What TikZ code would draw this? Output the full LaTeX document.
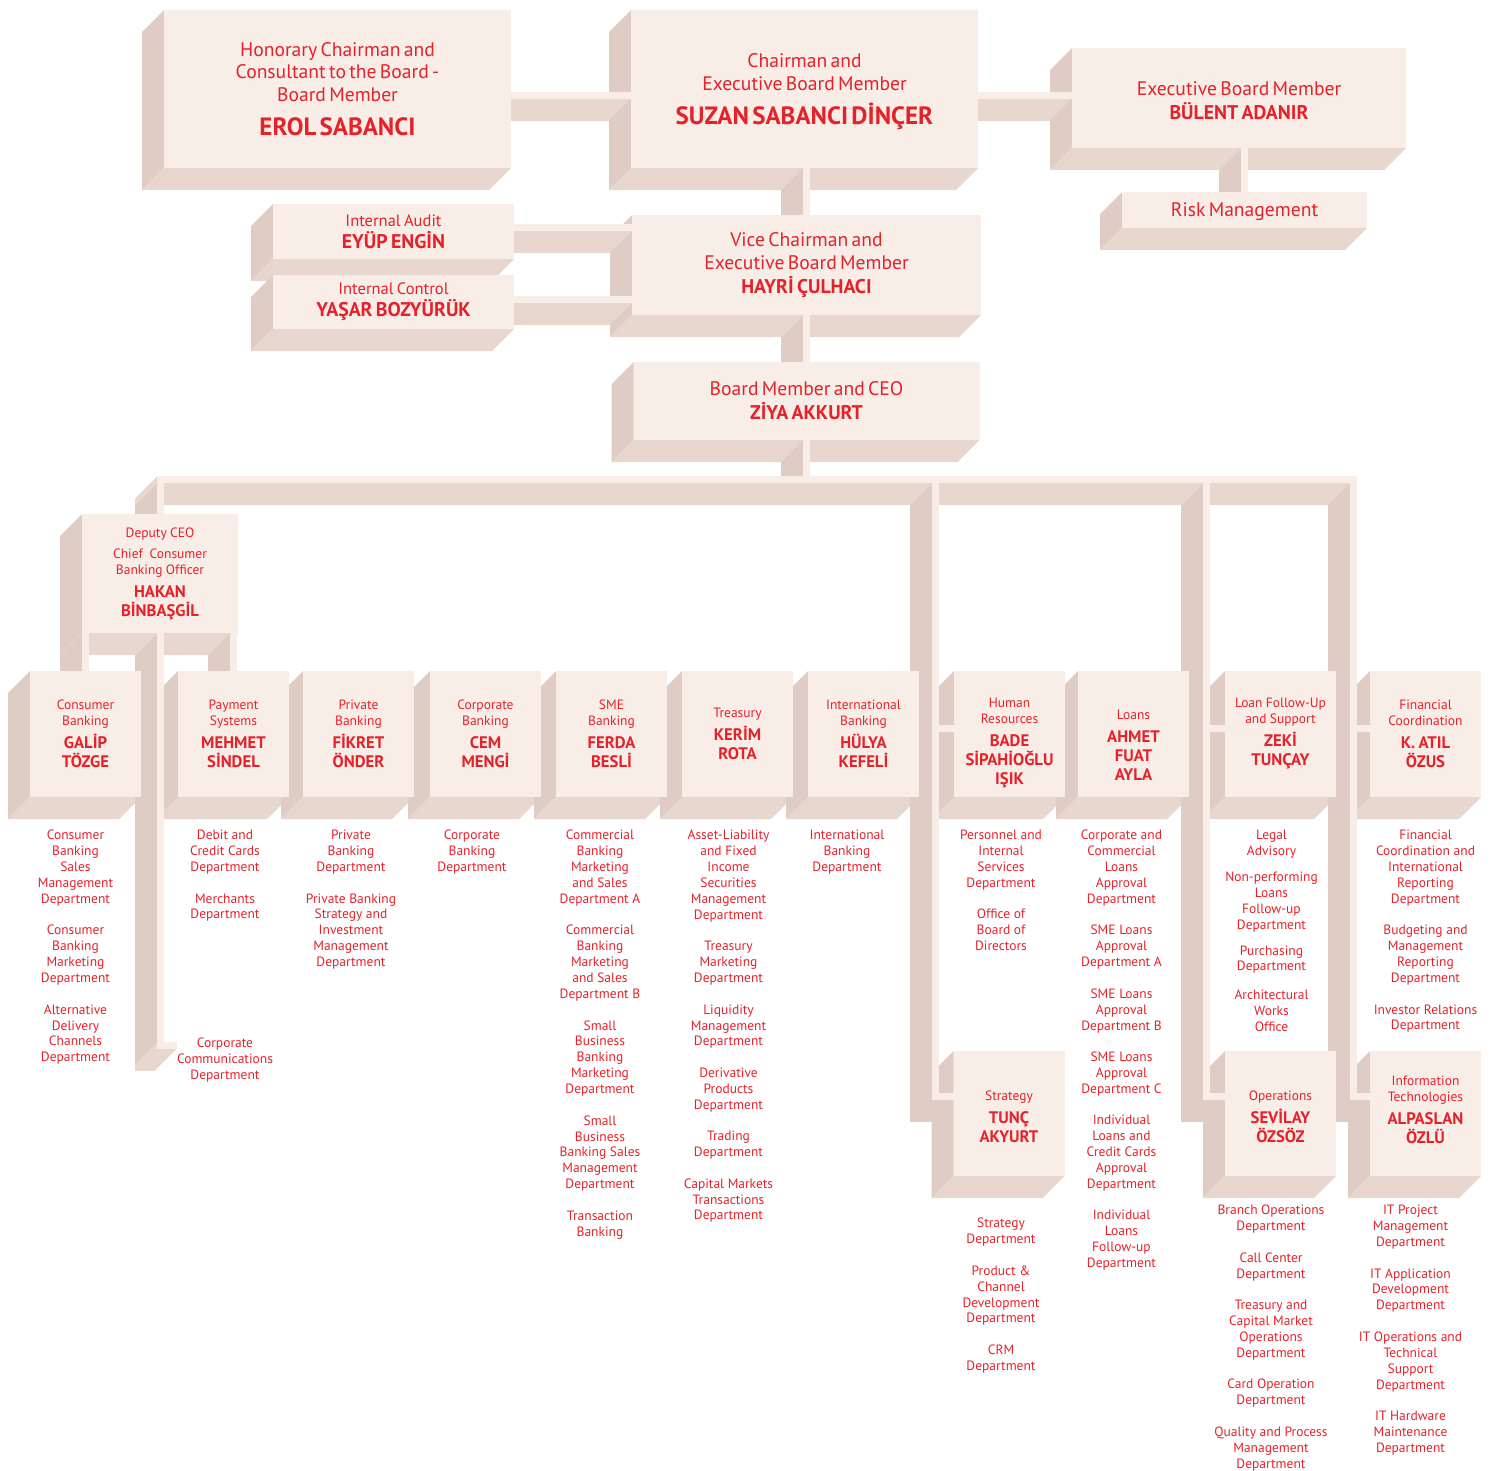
\documentclass[tikz,border=0pt]{standalone}
\usepackage{fontspec}
\setmainfont{PT Sans}
\usetikzlibrary{calc,positioning}

\definecolor{boxfront}{HTML}{F9EDE8}
\definecolor{boxleft}{HTML}{DFCDC5}
\definecolor{boxbottom}{HTML}{E8D7CF}
\definecolor{orgred}{HTML}{E52129}

\pgfdeclarelayer{boxsides}
\pgfdeclarelayer{barsides}
\pgfdeclarelayer{barfronts}
\pgfsetlayers{boxsides,barsides,barfronts,main}

\newcommand\ttl[1]{{\fontsize{13.5}{16}\selectfont #1\par}}
\newcommand\nme[1]{{\fontsize{16.7}{19}\selectfont\bfseries #1\par}}
\newcommand\bigttl[1]{{\fontsize{19.6}{22.5}\selectfont #1\par}}
\newcommand\midttl[1]{{\fontsize{16.5}{19}\selectfont #1\par}}
\newcommand\bignme[1]{{\fontsize{25}{28}\selectfont\bfseries #1\par}}
\newcommand\midnme[1]{{\fontsize{19.8}{22}\selectfont\bfseries #1\par}}

\newcommand\orgbar[3]{%
	\begin{pgfonlayer}{barsides}
		\foreach \k in {0,...,22}
			\draw[#1] ($(#2)+(-\k,\k)$) -- ($(#3)+(-\k,\k)$);
	\end{pgfonlayer}
	\begin{pgfonlayer}{barfronts}
		\draw[barfront] (#2) -- (#3);
	\end{pgfonlayer}}

\begin{document}
\begin{tikzpicture}[x=1pt, y=-1pt,
	box/.style={fill=boxfront, inner sep=0pt, outer sep=0pt, text=orgred, align=center},
	unit/.style={box, minimum width=111pt, minimum height=126pt, text width=108pt},
	dept/.style={text=orgred, font=\fontsize{13.5}{15.9}\selectfont, align=center, inner sep=0pt, anchor=north},
	vside/.style={draw=boxleft, line width=7pt},
	hside/.style={draw=boxbottom, line width=7pt},
	barfront/.style={draw=boxfront, line width=7pt}]

	\useasboundingbox (0,0) rectangle (1501,1470);

	\node [box, minimum width=347pt, minimum height=158pt, text width=335pt] (erol) at (337.5,89)
		{\bigttl{Honorary Chairman and\\Consultant to the Board -\\Board Member}\vspace{6pt}\bignme{EROL SABANCI}};
	\node [box, minimum width=347pt, minimum height=158pt, text width=335pt] (suzan) at (804.5,89)
		{\bigttl{Chairman and\\Executive Board Member}\vspace{6pt}\bignme{SUZAN SABANCI DİNÇER}\vspace*{-5pt}};
	\node [box, minimum width=334pt, minimum height=100pt, text width=320pt] (bulent) at (1239,98)
		{\bigttl{Executive Board Member}\vspace{2pt}\midnme{BÜLENT ADANIR}\vspace*{-6pt}};
	\node [box, minimum width=245pt, minimum height=36pt, text width=230pt] (risk) at (1244.5,210)
		{\bigttl{Risk Management}\vspace*{-3pt}};
	\node [box, minimum width=241pt, minimum height=55pt, text width=235pt] (eyup) at (393.5,231.5)
		{\midttl{Internal Audit}\midnme{EYÜP ENGİN}};
	\node [box, minimum width=241pt, minimum height=54pt, text width=235pt] (yasar) at (393.5,302)
		{\midttl{Internal Control}\midnme{YAŞAR BOZYÜRÜK}};
	\node [box, minimum width=349pt, minimum height=100pt, text width=335pt] (hayri) at (806.5,265)
		{\bigttl{Vice Chairman and\\Executive Board Member}\vspace{2pt}\midnme{HAYRİ ÇULHACI}};
	\node [box, minimum width=346pt, minimum height=78pt, text width=335pt] (ziya) at (806.5,401)
		{\bigttl{Board Member and CEO}\vspace{2pt}\midnme{ZİYA AKKURT}};
	\node [box, minimum width=156pt, minimum height=119pt, text width=150pt] (hakan) at (160,573.5)
		{\ttl{Deputy CEO}\vspace{5pt}\ttl{Chief~~Consumer\\Banking Officer}\vspace{4pt}\nme{HAKAN\\BİNBAŞGİL}};

	\node [unit] (galip) at (85.5,734) {\ttl{Consumer\\Banking}\vspace{4pt}\nme{GALİP\\TÖZGE}};
	\node [unit] (mehmet) at (233.5,734) {\ttl{Payment\\Systems}\vspace{4pt}\nme{MEHMET\\SİNDEL}};
	\node [unit] (fikret) at (358.5,734) {\ttl{Private\\Banking}\vspace{4pt}\nme{FİKRET\\ÖNDER}};
	\node [unit] (cem) at (485.5,734) {\ttl{Corporate\\Banking}\vspace{4pt}\nme{CEM\\MENGİ}};
	\node [unit] (ferda) at (611.5,734) {\ttl{SME\\Banking}\vspace{4pt}\nme{FERDA\\BESLİ}};
	\node [unit] (kerim) at (737.5,734) {\ttl{Treasury}\vspace{4pt}\nme{KERİM\\ROTA}};
	\node [unit] (hulya) at (863.5,734) {\ttl{International\\Banking}\vspace{4pt}\nme{HÜLYA\\KEFELİ}};
	\node [unit] (bade) at (1009.5,734) {\ttl{Human\\Resources}\vspace{4pt}\nme{BADE\\SİPAHİOĞLU\\IŞIK}\vspace*{-18pt}};
	\node [unit] (ahmet) at (1133.5,734) {\ttl{Loans}\vspace{4pt}\nme{AHMET\\FUAT\\AYLA}\vspace*{-22pt}};
	\node [unit] (zeki) at (1280.5,734) {\ttl{Loan Follow-Up\\and Support}\vspace{4pt}\nme{ZEKİ\\TUNÇAY}};
	\node [unit] (atil) at (1425.5,734) {\ttl{Financial\\Coordination}\vspace{4pt}\nme{K. ATIL\\ÖZUS}};

	\node [unit, minimum height=125pt] (tunc) at (1009,1113.5) {\ttl{Strategy}\vspace{4pt}\nme{TUNÇ\\AKYURT}\vspace*{-6pt}};
	\node [unit, minimum height=125pt] (sevilay) at (1280.5,1113.5) {\ttl{Operations}\vspace{4pt}\nme{SEVİLAY\\ÖZSÖZ}\vspace*{-6pt}};
	\node [unit, minimum height=125pt] (alpaslan) at (1425.5,1113.5) {\ttl{Information\\Technologies}\vspace{4pt}\nme{ALPASLAN\\ÖZLÜ}\vspace*{8pt}};

	\node [dept, below=33pt of galip, xshift=-10pt] (galipdeps) {Consumer\\Banking\\Sales\\Management\\Department\\[15.6pt]Consumer\\Banking\\Marketing\\Department\\[15.6pt]Alternative\\Delivery\\Channels\\Department};
	\node [dept, below=33pt of mehmet, xshift=-8.5pt] (mehmetdeps) {Debit and\\Credit Cards\\Department\\[15.6pt]Merchants\\Department};
	\node [dept] (cc) at (225,1038) {Corporate\\Communications\\Department};
	\node [dept, below=33pt of fikret, xshift=-7.5pt] (fikretdeps) {Private\\Banking\\Department\\[15.6pt]Private Banking\\Strategy and\\Investment\\Management\\Department};
	\node [dept, below=33pt of cem, xshift=-13.5pt] (cemdeps) {Corporate\\Banking\\Department};
	\node [dept, below=33pt of ferda, xshift=-11.5pt] (ferdadeps) {Commercial\\Banking\\Marketing\\and Sales\\Department A\\[15.6pt]Commercial\\Banking\\Marketing\\and Sales\\Department B\\[15.6pt]Small\\Business\\Banking\\Marketing\\Department\\[15.6pt]Small\\Business\\Banking Sales\\Management\\Department\\[15.6pt]Transaction\\Banking};
	\node [dept, below=33pt of kerim, xshift=-9pt] (kerimdeps) {Asset-Liability\\and Fixed\\Income\\Securities\\Management\\Department\\[15.6pt]Treasury\\Marketing\\Department\\[15.6pt]Liquidity\\Management\\Department\\[15.6pt]Derivative\\Products\\Department\\[15.6pt]Trading\\Department\\[15.6pt]Capital Markets\\Transactions\\Department};
	\node [dept, below=33pt of hulya, xshift=-16.5pt] (hulyadeps) {International\\Banking\\Department};
	\node [dept, below=33pt of bade, xshift=-8.5pt] (badedeps) {Personnel and\\Internal\\Services\\Department\\[15.6pt]Office of\\Board of\\Directors};
	\node [dept, below=33pt of ahmet, xshift=-12pt] (ahmetdeps) {Corporate and\\Commercial\\Loans\\Approval\\Department\\[15.6pt]SME Loans\\Approval\\Department A\\[15.6pt]SME Loans\\Approval\\Department B\\[15.6pt]SME Loans\\Approval\\Department C\\[15.6pt]Individual\\Loans and\\Credit Cards\\Approval\\Department\\[15.6pt]Individual\\Loans\\Follow-up\\Department};
	\node [dept, below=33pt of zeki, xshift=-9pt] (zekideps) {Legal\\Advisory\\[10pt]Non-performing\\Loans\\Follow-up\\Department\\[10pt]Purchasing\\Department\\[13pt]Architectural\\Works\\Office};
	\node [dept, below=33pt of atil] (atildeps) {Financial\\Coordination and\\International\\Reporting\\Department\\[15.6pt]Budgeting and\\Management\\Reporting\\Department\\[15.6pt]Investor Relations\\Department};
	\node [dept, below=42pt of tunc, xshift=-8pt] (tuncdeps) {Strategy\\Department\\[15.6pt]Product \&\\Channel\\Development\\Department\\[15.6pt]CRM\\Department};
	\node [dept, below=29pt of sevilay, xshift=-9.5pt] (sevilaydeps) {Branch Operations\\Department\\[15.6pt]Call Center\\Department\\[15.6pt]Treasury and\\Capital Market\\Operations\\Department\\[15.6pt]Card Operation\\Department\\[15.6pt]Quality and Process\\Management\\Department};
	\node [dept, below=29pt of alpaslan, xshift=-15pt] (alpaslandeps) {IT Project\\Management\\Department\\[15.6pt]IT Application\\Development\\Department\\[15.6pt]IT Operations and\\Technical\\Support\\Department\\[15.6pt]IT Hardware\\Maintenance\\Department};

	\begin{pgfonlayer}{boxsides}
		\foreach \n in {erol,suzan,bulent,risk,eyup,yasar,hayri,ziya,hakan,galip,mehmet,fikret,cem,ferda,kerim,hulya,bade,ahmet,zeki,atil,tunc,sevilay,alpaslan} {
			\fill[boxleft] (\n.north west) -- ++(-22,22) -- ($(\n.south west)+(-22,22)$) -- (\n.south west) -- cycle;
			\fill[boxbottom] (\n.south west) -- ++(-22,22) -- ($(\n.south east)+(-22,22)$) -- (\n.south east) -- cycle;
		}
	\end{pgfonlayer}

	\coordinate (es) at ($(erol.east)+(0,6.5)$);
	\coordinate (ia) at ($(eyup.east)+(0,-4.5)$);
	\coordinate (ic) at ($(yasar.east)+(0,-2.5)$);
	\coordinate (mainL) at (157,479);
	\coordinate (mainR) at (1357,479);
	\coordinate (cbtop) at (160,483);
	\coordinate (ccturn) at (160,1048);
	\coordinate (ccstub) at (156.5,1045);
	\coordinate (hrtop) at (935.5,483);
	\coordinate (hrturn) at (935.5,1100);
	\coordinate (hrstub) at (932,728.5);
	\coordinate (hrend) at (932,1096.5);
	\coordinate (optop) at (1206.5,483);
	\coordinate (opturn) at (1206.5,1100);
	\coordinate (opstub) at (1203,728.5);
	\coordinate (opend) at (1203,1096.5);
	\coordinate (ittop) at (1353.5,483);
	\coordinate (itturn) at (1353.5,1100);
	\coordinate (itstub) at (1350,728.5);
	\coordinate (itend) at (1350,1096.5);

	\orgbar{hside}{es}{suzan.west |- es}
	\orgbar{hside}{suzan.east |- es}{bulent.west |- es}
	\orgbar{vside}{risk.north |- bulent.south}{risk.north}
	\orgbar{vside}{hayri.north |- suzan.south}{hayri.north}
	\orgbar{hside}{ia}{hayri.west |- ia}
	\orgbar{hside}{ic}{hayri.west |- ic}
	\orgbar{vside}{ziya.north |- hayri.south}{ziya.north}
	\orgbar{vside}{ziya.south}{ziya.south |- mainL}
	\orgbar{hside}{mainL}{mainR}

	\orgbar{vside}{cbtop}{hakan.north}
	\orgbar{vside}{hakan.south}{ccturn}
	\orgbar{hside}{ccstub}{cc.west |- ccstub}
	\orgbar{vside}{galip.north |- hakan.south}{galip.north}
	\orgbar{vside}{mehmet.north |- hakan.south}{mehmet.north}

	\orgbar{vside}{hrtop}{hrturn}
	\orgbar{vside}{hrstub}{bade.west |- hrstub}
	\orgbar{vside}{hrend}{tunc.west |- hrend}
	\orgbar{vside}{optop}{opturn}
	\orgbar{vside}{opstub}{zeki.west |- opstub}
	\orgbar{vside}{opend}{sevilay.west |- opend}
	\orgbar{vside}{ittop}{itturn}
	\orgbar{vside}{itstub}{atil.west |- itstub}
	\orgbar{vside}{itend}{alpaslan.west |- itend}

\end{tikzpicture}
\end{document}
